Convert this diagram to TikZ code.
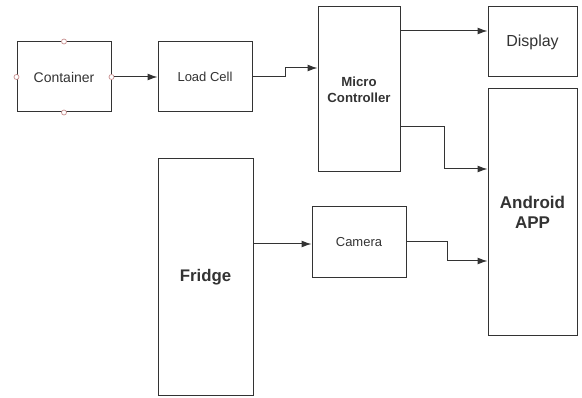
\documentclass[tikz,border=0pt]{standalone}
\usepackage{fontspec}
\setmainfont{Liberation Sans}
\usetikzlibrary{arrows.meta}
\definecolor{ln}{HTML}{333333}
\definecolor{pt}{HTML}{C89090}
\tikzset{
  blk/.style={draw=ln, line width=1pt, inner sep=0pt, align=center, text=ln},
  con/.style={draw=ln, line width=1pt, -{Latex[length=10pt,width=7pt]}},
  dot/.style={circle, draw=pt, fill=white, line width=0.7pt, inner sep=0pt, minimum size=5pt}
}
\begin{document}
\begin{tikzpicture}[x=1pt,y=-1pt]
\useasboundingbox (0,0) rectangle (582,398);
\node[blk, minimum width=94pt, minimum height=70pt, font=\fontsize{14}{16}\selectfont] (cont) at (64,77) {Container};
\node[blk, minimum width=94pt, minimum height=70pt, font=\fontsize{13}{15}\selectfont] (load) at (205,77) {Load Cell};
\node[blk, minimum width=82pt, minimum height=165pt, font=\bfseries\fontsize{13.2}{16}\selectfont] (mc) at (359,89.5) {Micro\\Controller};
\node[blk, minimum width=89pt, minimum height=70pt, font=\fontsize{16}{18}\selectfont] (disp) at (532.5,42) {Display};
\node[blk, minimum width=89pt, minimum height=247pt, font=\bfseries\fontsize{17}{20}\selectfont] (app) at (532.5,212.5) {Android\\APP};
\node[blk, minimum width=95pt, minimum height=237pt, font=\bfseries\fontsize{16.8}{19}\selectfont] (fridge) at (205.5,277.5) {Fridge};
\node[blk, minimum width=94pt, minimum height=71pt, font=\fontsize{13}{15}\selectfont] (cam) at (359,242.5) {Camera};
\foreach \a in {north,south,east,west} \node[dot] (c\a) at (cont.\a) {};
\draw[con] (ceast) -- (load.west);
\draw[con] (load.east) -- (285,77) -- (285,68) -- (mc.west |- 0,68);
\draw[con] (mc.east |- 0,31) -- (disp.west |- 0,31);
\draw[con] (mc.east |- 0,127) -- (444,127) -- (444,169) -- (app.west |- 0,169);
\draw[con] (fridge.east |- 0,244) -- (cam.west |- 0,244);
\draw[con] (cam.east |- 0,242) -- (447,242) -- (447,261) -- (app.west |- 0,261);
\end{tikzpicture}
\end{document}
